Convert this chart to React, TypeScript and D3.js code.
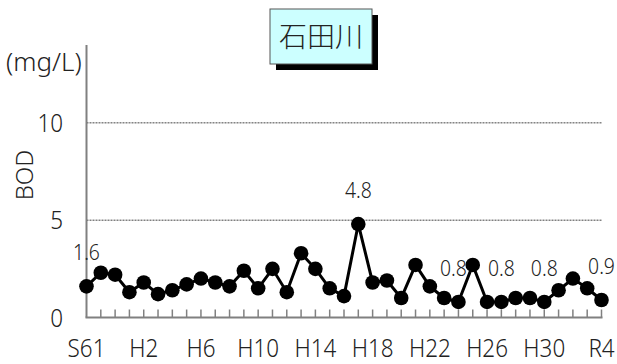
import React from "react";
import * as d3 from "d3";

const years: string[] = [
  "S61", "S62", "S63", "H1", "H2", "H3", "H4", "H5", "H6", "H7", "H8", "H9",
  "H10", "H11", "H12", "H13", "H14", "H15", "H16", "H17", "H18", "H19", "H20",
  "H21", "H22", "H23", "H24", "H25", "H26", "H27", "H28", "H29", "H30", "H31",
  "R2", "R3", "R4",
];
const bod: number[] = [
  1.6, 2.3, 2.2, 1.3, 1.8, 1.2, 1.4, 1.7, 2.0, 1.8, 1.6, 2.4,
  1.5, 2.5, 1.3, 3.3, 2.5, 1.5, 1.1, 4.8, 1.8, 1.9, 1.0,
  2.7, 1.6, 1.0, 0.8, 2.7, 0.8, 0.8, 1.0, 1.0, 0.8, 1.4,
  2.0, 1.5, 0.9,
];
const tickLabels: string[] = ["S61", "H2", "H6", "H10", "H14", "H18", "H22", "H26", "H30", "R4"];
const labelledYears: string[] = ["S61", "H17", "H24", "H27", "H30", "R4"];
const yTicks: number[] = [0, 5, 10];
const gridValues: number[] = [5, 10];
const title = "石田川";
const unit = "(mg/L)";
const yTitle = "BOD";

const LATIN = "'Noto Sans', 'Liberation Sans', sans-serif";
const CJK = "'Noto Sans CJK JP', 'Noto Sans', sans-serif";
const TXT = "#222";

function SText(props: {
  x: number;
  y: number;
  size: number;
  sx?: number;
  anchor?: "start" | "middle" | "end";
  dy?: string;
  family?: string;
  children: React.ReactNode;
}) {
  const { x, y, size, sx = 0.88, anchor = "middle", dy, family = LATIN } = props;
  return (
    <g transform={`translate(${x},${y}) scale(${sx},1)`}>
      <text
        x={0}
        y={0}
        dy={dy}
        textAnchor={anchor}
        fontFamily={family}
        fontSize={size}
        fontWeight={300}
        fill={TXT}
      >
        {props.children}
      </text>
    </g>
  );
}

export default function App() {
  const W = 617;
  const H = 364;
  const x = d3.scalePoint<string>().domain(years).range([86.5, 601.5]);
  const y = d3.scaleLinear().domain([0, 14]).range([317.5, 45]);
  const line = d3
    .line<number>()
    .x((_, i) => x(years[i]) as number)
    .y((d) => y(d));

  const x0 = x(years[0]) as number;
  const x1 = x(years[years.length - 1]) as number;
  const labelNudge = (yr: string) => (yr === "H24" ? -5 : 0);

  return (
    <svg
      width={W}
      height={H}
      style={{ position: "absolute", left: 0, top: 0, background: "#fff" }}
    >
      {gridValues.map((v) => (
        <line
          key={"g" + v}
          x1={x0}
          x2={x1 + 1}
          y1={y(v)}
          y2={y(v)}
          stroke="#444"
          strokeWidth={1}
          strokeDasharray="2,1"
        />
      ))}
      <line x1={x0} x2={x0} y1={y(14)} y2={y(0)} stroke="#808080" strokeWidth={2} />
      <line x1={x0 - 1} x2={x1 + 1} y1={y(0)} y2={y(0)} stroke="#808080" strokeWidth={2} />
      {years.map((yr, i) =>
        i === 0 ? null : (
          <line
            key={"t" + yr}
            x1={x(yr)}
            x2={x(yr)}
            y1={y(0)}
            y2={y(0) - 8}
            stroke="#808080"
            strokeWidth={1.5}
          />
        )
      )}
      {yTicks.map((v) => (
        <SText key={"yl" + v} x={63} y={y(v)} dy="0.36em" anchor="end" size={25.5}>
          {v}
        </SText>
      ))}
      {tickLabels.map((t) => (
        <SText key={"xl" + t} x={x(t) as number} y={357} size={25.5}>
          {t}
        </SText>
      ))}
      <SText x={6} y={71} anchor="start" size={26} sx={1}>
        {unit}
      </SText>
      <g transform={`translate(33,175) rotate(-90)`}>
        <text
          textAnchor="middle"
          fontFamily={LATIN}
          fontSize={24}
          fontWeight={300}
          fill={TXT}
        >
          {yTitle}
        </text>
      </g>
      <path d={line(bod) || ""} fill="none" stroke="#000" strokeWidth={3} />
      {bod.map((v, i) => (
        <circle key={"p" + i} cx={x(years[i])} cy={y(v)} r={7.3} fill="#000" />
      ))}
      {years.map((yr, i) =>
        labelledYears.includes(yr) ? (
          <SText
            key={"dl" + yr}
            x={(x(yr) as number) + labelNudge(yr)}
            y={y(bod[i]) - 26}
            size={22}
          >
            {bod[i].toFixed(1)}
          </SText>
        ) : null
      )}
      <rect x={276} y={15} width={102} height={55} fill="#000" />
      <rect x={270} y={9} width={102} height={55} fill="#CCFFFF" stroke="#555" strokeWidth={1} />
      <SText x={321} y={37} dy="0.36em" size={28} sx={1} family={CJK}>
        {title}
      </SText>
    </svg>
  );
}
